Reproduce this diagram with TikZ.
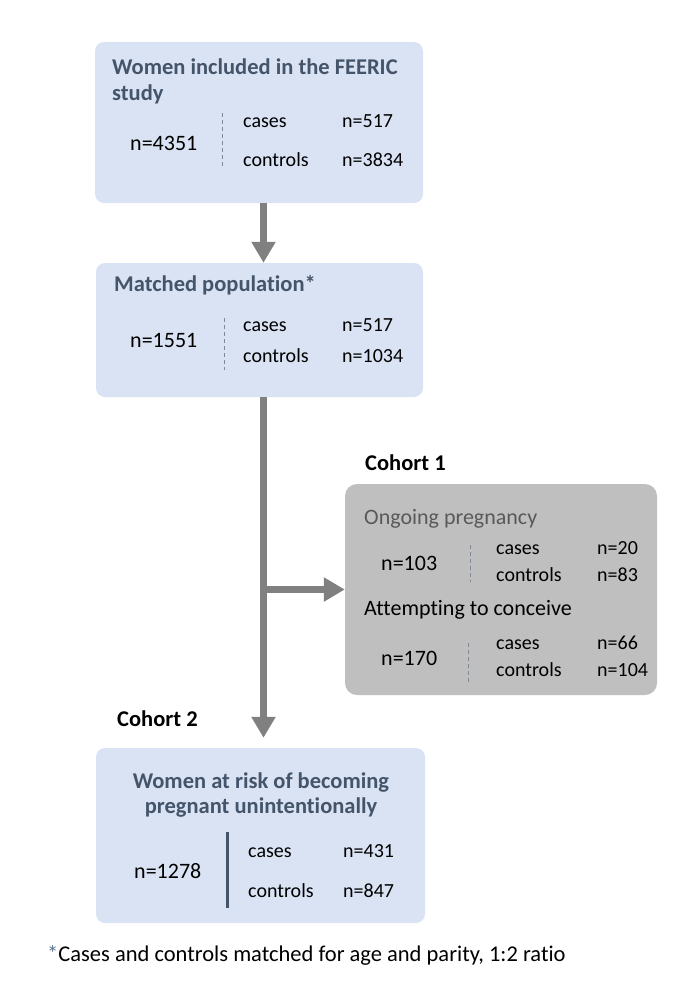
\documentclass[tikz,border=0pt]{standalone}
\usepackage{fontspec}
\setmainfont{Carlito}[RawFeature={-liga}]
\usetikzlibrary{arrows.meta}
\definecolor{boxblue}{HTML}{DAE3F3}
\definecolor{titlecol}{HTML}{44546A}
\definecolor{greybox}{HTML}{BFBFBF}
\definecolor{arrowcol}{HTML}{808080}
\definecolor{dashcol}{HTML}{7F8A99}
\definecolor{ongoing}{HTML}{595959}
\definecolor{starcol}{HTML}{5B7393}
\tikzset{
  bluebox/.style={draw=none, fill=boxblue, rounded corners=9pt, inner sep=0pt},
  greyboxst/.style={draw=none, fill=greybox, rounded corners=12pt, inner sep=0pt},
  txt/.style={anchor=base west, inner sep=0pt, font=\fontsize{22}{26}\selectfont},
  small/.style={anchor=base west, inner sep=0pt, font=\fontsize{20}{24}\selectfont},
  ttl/.style={anchor=base west, inner sep=0pt, font=\fontsize{22.5}{27}\selectfont\bfseries, text=titlecol},
  arr/.style={draw=arrowcol, line width=7pt, -{Triangle[width=23pt,length=21pt]}},
  dsh/.style={draw=dashcol, line width=1pt, dash pattern=on 4pt off 3pt},
}
\begin{document}
\begin{tikzpicture}[x=1pt,y=-1pt]
\useasboundingbox (0,0) rectangle (684,988);
% boxes
\node[bluebox, minimum width=328pt, minimum height=161pt] (box1) at (259,122.5) {};
\node[bluebox, minimum width=327pt, minimum height=134pt] (box2) at (259.5,330) {};
\node[greyboxst, minimum width=312pt, minimum height=211pt] (grey) at (501,589.5) {};
\node[bluebox, minimum width=329pt, minimum height=175pt] (box3) at (260.5,835.5) {};
% box 1
\node[ttl] (t1a) at (112,74) {Women included in the FEERIC};
\node[ttl] (t1b) at (112,100) {study};
\node[txt] (n1) at (130,150) {n=4351};
\node[small] (c1a) at (243,127) {cases};
\node[small] (v1a) at (342,127) {n=517};
\node[small] (c1b) at (243,166) {controls};
\node[small] (v1b) at (342,166) {n=3834};
\coordinate (d1a) at (222,113); \coordinate (d1b) at (222,169);
\draw[dsh] (d1a) -- (d1b);
% box 2
\node[ttl] (t2) at (114,291) {Matched population*};
\node[txt] (n2) at (130,347) {n=1551};
\node[small] (c2a) at (243,331) {cases};
\node[small] (v2a) at (342,331) {n=517};
\node[small] (c2b) at (243,362) {controls};
\node[small] (v2b) at (342,362) {n=1034};
\coordinate (d2a) at (224,318); \coordinate (d2b) at (224,370);
\draw[dsh] (d2a) -- (d2b);
% cohort labels
\node[ttl, text=black] (coh1) at (365,470) {Cohort 1};
\node[ttl, text=black] (coh2) at (117,726) {Cohort 2};
% grey box
\node[txt, text=ongoing] (og) at (364,524) {Ongoing pregnancy};
\node[txt] (n3) at (381,570) {n=103};
\node[small] (c3a) at (496,554) {cases};
\node[small] (v3a) at (597,554) {n=20};
\node[small] (c3b) at (496,581) {controls};
\node[small] (v3b) at (597,581) {n=83};
\coordinate (d3a) at (470,545); \coordinate (d3b) at (470,582);
\draw[dsh] (d3a) -- (d3b);
\node[txt] (at) at (364,615) {Attempting to conceive};
\node[txt] (n4) at (381,665) {n=170};
\node[small] (c4a) at (496,649) {cases};
\node[small] (v4a) at (597,649) {n=66};
\node[small] (c4b) at (496,676) {controls};
\node[small] (v4b) at (597,676) {n=104};
\coordinate (d4a) at (468,643); \coordinate (d4b) at (468,682);
\draw[dsh] (d4a) -- (d4b);
% box 3
\node[anchor=base, inner sep=0pt, font=\fontsize{22.5}{27}\selectfont\bfseries, text=titlecol] (t3a) at (261,788) {Women at risk of becoming};
\node[anchor=base, inner sep=0pt, font=\fontsize{22.5}{27}\selectfont\bfseries, text=titlecol] (t3b) at (261,813) {pregnant unintentionally};
\node[txt] (n5) at (134,878) {n=1278};
\node[small] (c5a) at (248,857) {cases};
\node[small] (v5a) at (343,857) {n=431};
\node[small] (c5b) at (248,897) {controls};
\node[small] (v5b) at (343,897) {n=847};
\coordinate (d5a) at (227,832); \coordinate (d5b) at (227,908);
\draw[draw=titlecol, line width=3pt] (d5a) -- (d5b);
% arrows
\coordinate (sx) at (263.5,0);
\draw[arr] (box1.south -| sx) -- (box2.north -| sx);
\draw[arr, shorten >=10pt] (box2.south -| sx) -- (box3.north -| sx);
\draw[arr] (sx |- grey.west) -- (grey.west);
% footnote
\node[anchor=base west, inner sep=0pt, font=\fontsize{22.5}{27}\selectfont] (fn) at (47,961) {\textcolor{starcol}{*}Cases and controls matched for age and parity, 1:2 ratio};
\end{tikzpicture}
\end{document}
